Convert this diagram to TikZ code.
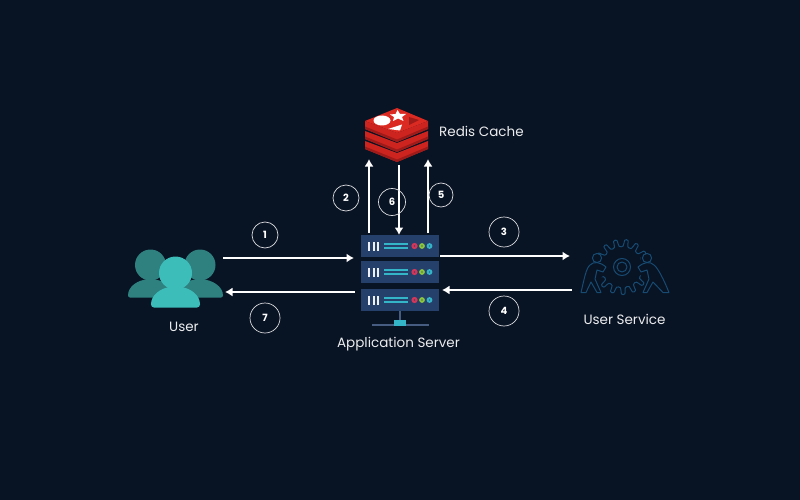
\documentclass[tikz,border=0pt]{standalone}
\usepackage{fontspec}
\setmainfont{Poppins}
\usetikzlibrary{arrows.meta}
\definecolor{bg}{HTML}{081324}
\definecolor{srv}{HTML}{25406B}
\definecolor{tealA}{HTML}{3DBDBA}
\definecolor{tealB}{HTML}{2F8180}
\definecolor{cy}{HTML}{35B5C8}
\definecolor{gearc}{HTML}{174B72}
\definecolor{rA}{HTML}{DB2A22}
\definecolor{rB}{HTML}{CE241F}
\definecolor{rC}{HTML}{9E1B1A}
\definecolor{dotR}{HTML}{D4365A}
\definecolor{dotG}{HTML}{8CC63F}
\tikzset{
 x=1pt,y=-1pt,
 flow/.style={draw=white,line width=2pt,-{Latex[length=7.5pt,width=9pt]}},
 step circle/.style={circle,draw=white!85!bg,line width=0.7pt,inner sep=0pt,text=white,font=\fontsize{10}{10}\selectfont\bfseries},
 label text/.style={text=white!92!bg,font=\fontsize{13.5}{16}\selectfont,inner sep=0pt},
 srow/.style={fill=srv,minimum width=78pt,minimum height=22pt,inner sep=0pt,draw=none},
 gearline/.style={draw=gearc,line width=1pt,line join=round}
}
\newcommand{\rowicon}[1]{%
 \foreach \dx in {368,372.5,377}{\fill[white!92!srv] (\dx,#1-4.5) rectangle ++(2.2,9);}
 \fill[cy] (384,#1-3.4) rectangle (408,#1-1.4);
 \fill[cy] (384,#1+1.4) rectangle (408,#1+3.4);
 \fill[dotR] (414.5,#1) circle (3.1);
 \fill[dotG] (422,#1) circle (2.9);
 \fill[cy] (429.5,#1) circle (2.9);
 \fill[srv!70!dotR] (414.5,#1) circle (0.9);
 \fill[srv!60!dotG] (422,#1) circle (0.9);
 \fill[srv!60!cy] (429.5,#1) circle (0.9);
}
\newcommand{\redislayer}[1]{%
 \fill[rB] (365,#1+13) -- (397,#1+25) -- (428,#1+13) -- (428,#1+21) -- (397,#1+34) -- (365,#1+21) -- cycle;
 \fill[rC] (365,#1+18.5) -- (397,#1+31.5) -- (428,#1+18.5) -- (428,#1+21) -- (397,#1+34) -- (365,#1+21) -- cycle;
}
\begin{document}
\begin{tikzpicture}
\path[use as bounding box,fill=bg] (0,0) rectangle (800,500);
% redis
\node[label text,anchor=west] (redislabel) at (439,131.5) {Redis Cache};
\coordinate (redisL) at (369,159);
\coordinate (redisM) at (399,165);
\coordinate (redisR) at (428,159);
\redislayer{128}
\redislayer{118}
\redislayer{108}
\fill[rA] (397,108) -- (428,121) -- (397,133) -- (365,121) -- cycle;
\fill[white] (382,120.5) ellipse (8.5 and 5);
\fill[white] (397.5,110) -- (400,114) -- (406,114) -- (402,117) -- (403.5,121) -- (398,118.5) -- (393,121) -- (394,117) -- (390,114.5) -- (395.5,114) -- cycle;
\fill[white] (388,129) -- (402,124.5) -- (400,130.5) -- cycle;
\fill[rC] (409,117) -- (419,120) -- (409,125) -- cycle;
% server
\node[srow] (s1) at (400,246) {};
\node[srow] (s2) at (400,272) {};
\node[srow] (s3) at (400,300) {};
\rowicon{246}\rowicon{272}\rowicon{300}
\fill[srv!85!white] (399.2,311) rectangle (400.8,322);
\fill[srv!85!white] (372,323.6) rectangle (429,325.6);
\fill[cy] (394,320) rectangle (406,326);
\node[label text] (applabel) at (398.5,344) {Application Server};
% user
\begin{scope}[fill=tealB]
\fill (150.5,265) circle (15.5);
\fill (200,265) circle (15.5);
\fill[rounded corners=2pt] (128,297.5) .. controls (128,286) and (138,280) .. (150,279) .. controls (162,280) and (172,284) .. (172,297.5) -- cycle;
\fill[rounded corners=2pt] (178,297.5) .. controls (178,284) and (188,280) .. (200,279) .. controls (212,280) and (223,286) .. (223,297.5) -- cycle;
\end{scope}
\fill[tealA] (175.5,273) circle (16.5);
\fill[tealA,rounded corners=3pt] (151,307.5) .. controls (151,295) and (160,288) .. (175.5,286) .. controls (191,288) and (200,295) .. (200,307.5) -- cycle;
\node[label text] (userlabel) at (184,327) {User};
% user service
\begin{scope}[shift={(622,267)}]
\draw[gearline] plot[smooth cycle,tension=0.6] coordinates {
 (0:21) (9:21) (12:27) (19:27) (22:21) (33:21) (36:27) (43:27) (46:21) (57:21) (60:27) (67:27) (70:21) (81:21) (84:27) (91:27) (94:21) (105:21) (108:27) (115:27) (118:21) (129:21) (132:27) (139:27) (142:21) (153:21) (156:27) (163:27) (166:21) (177:21) (180:27) (187:27) (190:21) (201:21) (204:27) (211:27) (214:21) (225:21) (228:27) (235:27) (238:21) (249:21) (252:27) (259:27) (262:21) (273:21) (276:27) (283:27) (286:21) (297:21) (300:27) (307:27) (310:21) (321:21) (324:27) (331:27) (334:21) (345:21) (348:27) (355:27)};
\draw[gearline] (0,0) circle (8.5);
\draw[gearline] (0,0) circle (5);
\end{scope}
\fill[bg] (592,252) -- (603,256) -- (606,272) -- (597,283) -- (598,293) -- (581,293) -- cycle;
\fill[bg] (652,252) -- (641,256) -- (638,272) -- (647,283) -- (646,293) -- (665,293) -- cycle;
\begin{scope}[gearline]
\draw (597,258) circle (4.6);
\draw (647,258) circle (4.6);
\draw (581,292.5) .. controls (584,280) and (586,268) .. (590,265) .. controls (594,261) and (600,262) .. (606,267) -- (603,272) -- (597,270) -- (595,279) -- (601,292.5) -- (597,292.5) -- (591,282) -- (586,292.5) -- cycle;
\draw (669,292.5) .. controls (664,280) and (658,268) .. (654,265) .. controls (650,261) and (644,262) .. (638,267) -- (641,272) -- (647,270) -- (649,279) -- (643,292.5) -- (647,292.5) -- (653,282) -- (663,292.5) -- cycle;
\end{scope}
\node[label text] (servicelabel) at (624.5,319) {User Service};
% connector ends
\coordinate (uIn) at (223,258);
\coordinate (uOut) at (225,292);
\coordinate (sIn) at (354,258);
\coordinate (sOut) at (355,292);
\coordinate (s3R) at (440,256);
\coordinate (s4R) at (442,290);
\coordinate (svcIn) at (570,256);
\coordinate (svcOut) at (572,290);
\coordinate (sTopL) at (369,233);
\coordinate (sTopM) at (399,235);
\coordinate (sTopR) at (428,233);
% connectors
\draw[flow] (uIn) -- (sIn);
\draw[flow] (sOut) -- (uOut);
\draw[flow] (s3R) -- (svcIn);
\draw[flow] (svcOut) -- (s4R);
\draw[flow] (sTopL) -- (redisL);
\draw[flow] (sTopR) -- (redisR);
\draw[flow] (redisM) -- (sTopM);
% step circles
\node[step circle,minimum size=26pt] (c1) at (265,235) {1};
\node[step circle,minimum size=26pt] (c2) at (346,198) {2};
\node[step circle,minimum size=27pt] (c6) at (392,202) {6};
\node[step circle,minimum size=24pt] (c5) at (441,195) {5};
\node[step circle,minimum size=30pt] (c3) at (504,232) {3};
\node[step circle,minimum size=30pt] (c4) at (504,311) {4};
\node[step circle,minimum size=30pt] (c7) at (265,318) {7};
\end{tikzpicture}
\end{document}
